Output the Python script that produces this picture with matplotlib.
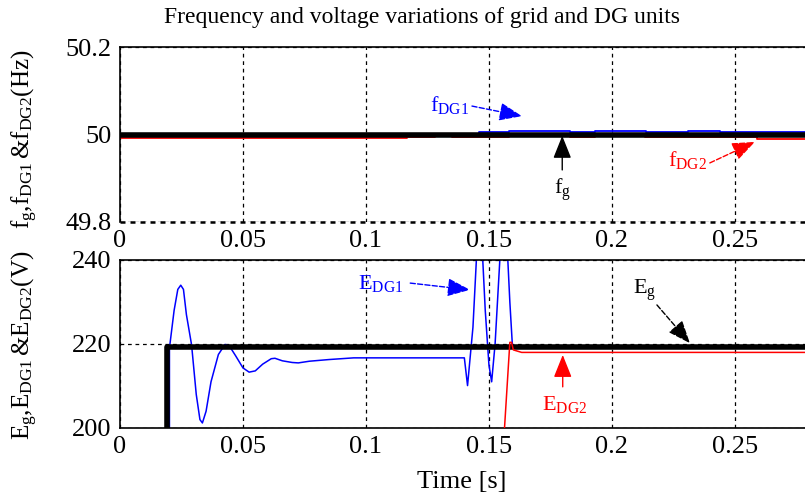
import matplotlib
matplotlib.use("Agg")
import matplotlib.pyplot as plt

plt.rcParams['font.family'] = ['Liberation Serif', 'DejaVu Serif']
plt.rcParams['mathtext.fontset'] = 'custom'
plt.rcParams['mathtext.rm'] = 'Liberation Serif'
plt.rcParams['mathtext.it'] = 'Liberation Serif:italic'

# frequency plot data (steps, Hz)
t_freq = [0, 0.146, 0.158, 0.183, 0.193, 0.214, 0.231, 0.244, 0.28]
f_grid = [50.0, 50.0, 50.0, 50.0, 50.0, 50.0, 50.0, 50.0, 50.0]
f_dg1 = [50.0, 50.005, 50.008, 50.005, 50.008, 50.005, 50.008, 50.005, 50.005]
t_fdg2 = [0, 0.1165, 0.128, 0.135, 0.146, 0.158, 0.183, 0.193, 0.2134, 0.2464, 0.2589, 0.28]
f_dg2 = [49.993, 49.994, 49.996, 49.994, 49.995, 49.997, 49.995, 49.997, 49.995, 49.994, 49.990, 49.990]

# voltage plot data (V)
t_eg = [0, 0.0191, 0.0191, 0.28]
e_grid = [0, 0, 219.4, 219.4]

t_edg1 = [0, 0.0201, 0.0201, 0.022, 0.0235, 0.0247, 0.0258, 0.027, 0.0291, 0.031,
          0.0325, 0.0335, 0.035, 0.037, 0.040, 0.0427, 0.0445, 0.047, 0.050,
          0.0525, 0.055, 0.058, 0.0615, 0.063, 0.066, 0.070, 0.0725, 0.077,
          0.085, 0.095, 0.1400, 0.1413, 0.1435, 0.1455, 0.1469, 0.1485, 0.1500,
          0.1511, 0.1525, 0.1551, 0.1571, 0.1585, 0.1595, 0.1605, 0.28]
e_dg1 = [0, 0, 219, 228, 233, 234, 233, 227, 219.8, 208,
         202, 201.2, 204, 211, 217.5, 219.9, 219.5, 217.2, 214.3,
         213.3, 213.6, 215.2, 216.5, 216.6, 216.0, 215.6, 215.5, 215.9,
         216.3, 216.7, 216.7, 210.1, 224, 247, 247, 228, 215,
         211, 220, 247, 247, 230, 220.0, 219.3, 219.3]

t_edg2 = [0, 0.1558, 0.1585, 0.1592, 0.1599, 0.1633, 0.28]
e_dg2 = [0, 195, 220.4, 220.4, 218.6, 218.0, 218.0]

xticks = [0, 0.05, 0.1, 0.15, 0.2, 0.25]
xticklabels = ['0', '0.05', '0.1', '0.15', '0.2', '0.25']

fig = plt.figure(figsize=(8.05, 5.0), dpi=100)
ax1 = fig.add_axes([120/805, 1-222/500, 685/805, 175/500])
ax2 = fig.add_axes([120/805, 1-428/500, 685/805, 168/500])

grid_kw = dict(color='black', linestyle=(0, (3, 3)), linewidth=0.9)

# top: frequency
ax1.plot(t_fdg2, f_dg2, color='red', lw=1.3, drawstyle='steps-post', zorder=2.5)
ax1.plot(t_freq, f_dg1, color='blue', lw=1.3, drawstyle='steps-post', zorder=2.4)
ax1.plot(t_freq, f_grid, color='black', lw=4, drawstyle='steps-post', zorder=3)
ax1.axhline(49.8, color='black', linestyle=(0, (2, 2)), lw=1.8, clip_on=False, zorder=4)
ax1.set_xlim(0, 0.2785)
ax1.set_ylim(49.8, 50.2)
ax1.set_yticks([49.8, 50, 50.2])
ax1.set_yticklabels(['49.8', '50', '50.2'])
ax1.set_xticks(xticks)
ax1.set_xticklabels(xticklabels)
ax1.grid(True, **grid_kw)
ax1.spines['right'].set_visible(False)
ax1.spines['bottom'].set_visible(False)

# bottom: voltage
ax2.plot(t_edg1, e_dg1, color='blue', lw=1.1, zorder=2.5)
ax2.plot(t_eg, e_grid, color='black', lw=4, zorder=3)
ax2.plot(t_edg2, e_dg2, color='red', lw=1.1, zorder=5)
ax2.set_xlim(0, 0.2785)
ax2.set_ylim(200, 240)
ax2.set_yticks([200, 220, 240])
ax2.set_xticks(xticks)
ax2.set_xticklabels(xticklabels)
ax2.grid(True, **grid_kw)
ax2.spines['right'].set_visible(False)

for ax in (ax1, ax2):
    ax.tick_params(direction='in', length=0, labelsize=19, pad=6)
    ax.set_axisbelow(True)
    for s in ax.spines.values():
        s.set_linewidth(1.2)

def arrow(ax, xy, xytext, color, ls):
    ax.annotate('', xy=xy, xytext=xytext,
                arrowprops=dict(arrowstyle='-|>,head_length=0.7,head_width=0.28',
                                mutation_scale=20, color=color, lw=1.0, linestyle=ls,
                                shrinkA=0, shrinkB=0), zorder=6)

# annotations: top
ax1.text(0.126, 50.067, r'$\mathrm{f_{DG1}}$', color='blue', fontsize=16, ha='left', va='center')
arrow(ax1, (0.1634, 50.042), (0.1431, 50.065), 'blue', '--')
ax1.text(0.1797, 49.873, r'$\mathrm{f_{g}}$', color='black', fontsize=16, ha='center', va='center')
arrow(ax1, (0.1798, 49.997), (0.1798, 49.919), 'black', '-')
ax1.text(0.2228, 49.942, r'$\mathrm{f_{DG2}}$', color='red', fontsize=16, ha='left', va='center')
arrow(ax1, (0.2581, 49.983), (0.2398, 49.935), 'red', '--')

# annotations: bottom
ax2.text(0.0967, 234.5, r'$\mathrm{E_{DG1}}$', color='blue', fontsize=16, ha='left', va='center')
arrow(ax2, (0.1423, 232.9), (0.118, 234.5), 'blue', '--')
ax2.text(0.2085, 232.9, r'$\mathrm{E_{g}}$', color='black', fontsize=16, ha='left', va='center')
arrow(ax2, (0.2317, 220.2), (0.2183, 229.3), 'black', '--')
ax2.text(0.1715, 205.5, r'$\mathrm{E_{DG2}}$', color='red', fontsize=16, ha='left', va='center')
arrow(ax2, (0.180, 217.4), (0.180, 209.8), 'red', '-')

fig.text(422/805, 1-18/500, 'Frequency and voltage variations of grid and DG units',
         ha='center', va='center', fontsize=17)
fig.text(25/805, 1-139/500, r'$\mathrm{f_{g}{,}f_{DG1}\,&f_{DG2}(Hz)}$',
         rotation=90, ha='center', va='center', fontsize=18)
fig.text(25/805, 1-345/500, r'$\mathrm{E_{g}{,}E_{DG1}\,&E_{DG2}(V)}$',
         rotation=90, ha='center', va='center', fontsize=18)
fig.text(462/805, 1-482/500, 'Time [s]', ha='center', va='center', fontsize=19)

fig.savefig('out.png', dpi=100)
